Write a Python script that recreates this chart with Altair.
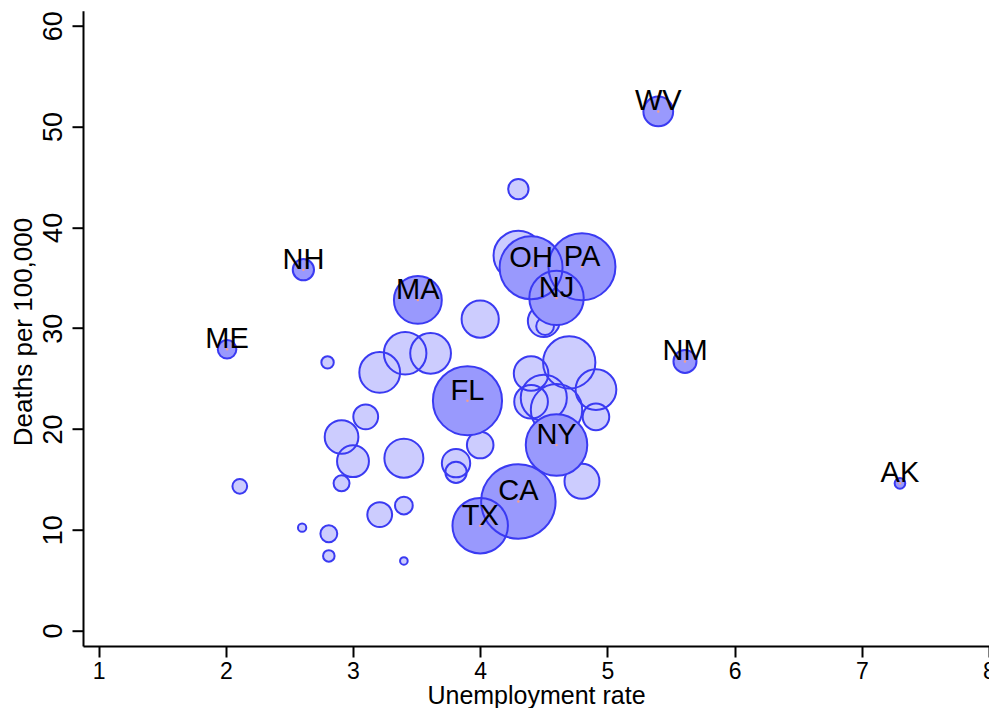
import altair as alt
import pandas as pd

# Labeled states
label_states = ["WV", "NH", "ME", "MA", "OH", "PA", "NJ", "FL", "NY", "CA", "TX", "NM", "AK"]
label_unemp = [5.40, 2.61, 2.01, 3.51, 4.40, 4.80, 4.60, 3.90, 4.60, 4.30, 4.00, 5.61, 7.30]
label_rate = [51.5, 35.8, 27.9, 32.8, 36.0, 36.1, 33.0, 22.8, 18.4, 12.8, 10.4, 26.7, 14.6]
label_weight = [806, 411, 315, 2082, 3599, 4081, 2692, 4344, 3439, 5038, 2798, 483, 103]

# Other (unlabeled) states
other_unemp = [4.30, 4.30, 4.50, 4.51, 2.80, 3.21, 3.41, 3.61, 4.00, 3.10, 2.91, 3.00,
               3.40, 4.00, 3.81, 3.81, 2.91, 3.21, 3.40, 2.60, 2.81, 2.81, 3.40, 4.80,
               4.70, 4.91, 4.91, 4.40, 4.40, 4.50, 4.60, 2.11]
other_rate = [43.8, 37.2, 30.7, 30.2, 26.6, 25.6, 27.5, 27.5, 30.9, 21.2, 19.2, 16.8,
              17.1, 18.4, 16.6, 15.7, 14.6, 11.5, 12.4, 10.2, 9.6, 7.4, 6.9, 14.8,
              26.6, 23.9, 21.2, 25.5, 22.7, 23.1, 21.9, 14.3]
other_weight = [378, 2239, 925, 286, 140, 1511, 1645, 1511, 1259, 560, 1031, 925,
                1382, 643, 731, 411, 231, 560, 286, 63, 258, 121, 53, 1108,
                2485, 1511, 643, 1086, 1031, 1931, 2402, 197]

lab = pd.DataFrame({"state": label_states, "unemp": label_unemp,
                    "rate": label_rate, "weight": label_weight})
oth = pd.DataFrame({"unemp": other_unemp, "rate": other_rate, "weight": other_weight})

FONT = "Liberation Sans"
OUTLINE = "#3a3af2"
LIGHT = "#ccccfe"
DARK = "#9999fd"

x_enc = alt.X(
    "unemp:Q",
    scale=alt.Scale(domain=[0.8774, 8.0], nice=False, zero=False),
    axis=alt.Axis(
        values=[1, 2, 3, 4, 5, 6, 7, 8], format="d", grid=False,
        labelFontSize=23, labelFont=FONT, labelColor="black", labelPadding=3,
        labelFlush=False, labelAngle=0, labelOverlap=False, labelBound=False,
        tickSize=11, tickColor="black", tickWidth=2,
        domainColor="black", domainWidth=2,
        title="Unemployment rate", titleFont=FONT, titleFontSize=25,
        titleFontWeight="normal", titleColor="black",
        titleY=57, titleBaseline="alphabetic",
    ),
)
y_enc = alt.Y(
    "rate:Q",
    scale=alt.Scale(domain=[-1.54, 61.5], nice=False, zero=False),
    axis=alt.Axis(
        values=[0, 10, 20, 30, 40, 50, 60], format="d", grid=False,
        labelFontSize=27, labelFont=FONT, labelColor="black", labelPadding=10.6,
        labelAngle=270, labelAlign="center", labelBaseline="alphabetic",
        labelFlush=False,
        tickSize=11, tickColor="black", tickWidth=2,
        domainColor="black", domainWidth=2,
        title="Deaths per 100,000", titleFont=FONT, titleFontSize=26,
        titleFontWeight="normal", titleColor="black",
        titleAngle=270, titleX=-52, titleY=320.8,
        titleAlign="center", titleBaseline="alphabetic",
    ),
)
size_enc = alt.Size("weight:Q",
                    scale=alt.Scale(type="linear", domain=[0, 5000], range=[0, 5500], zero=True),
                    legend=None)

oth_fill = alt.Chart(oth).mark_circle(fill=LIGHT, opacity=1, fillOpacity=1, strokeWidth=0).encode(
    x=x_enc, y=y_enc, size=size_enc)
oth_line = alt.Chart(oth).mark_point(shape="circle", filled=False, stroke=OUTLINE,
                                     strokeWidth=2, opacity=1).encode(
    x=x_enc, y=y_enc, size=size_enc)
lab_fill = alt.Chart(lab).mark_circle(fill=DARK, opacity=1, fillOpacity=1, strokeWidth=0).encode(
    x=x_enc, y=y_enc, size=size_enc)
lab_line = alt.Chart(lab).mark_point(shape="circle", filled=False, stroke=OUTLINE,
                                     strokeWidth=2, opacity=1).encode(
    x=x_enc, y=y_enc, size=size_enc)
lab_dot = alt.Chart(lab).mark_circle(color="#f4a08c", size=6, opacity=1).encode(
    x=x_enc, y=y_enc)
lab_text = alt.Chart(lab).mark_text(font=FONT, fontSize=29, color="black",
                                    align="center", baseline="alphabetic", dy=-1).encode(
    x=x_enc, y=y_enc, text="state:N")

chart = alt.layer(oth_fill, oth_line, lab_fill, lab_line, lab_dot, lab_text).properties(
    width=906, height=635.3,
    autosize=alt.AutoSizeParams(type="none"),
    padding={"left": 75, "top": 2.7, "right": 0, "bottom": 62},
    background="white",
).configure_view(stroke=None)

chart.save("out.html", embed_options={"renderer": "svg", "actions": False})
